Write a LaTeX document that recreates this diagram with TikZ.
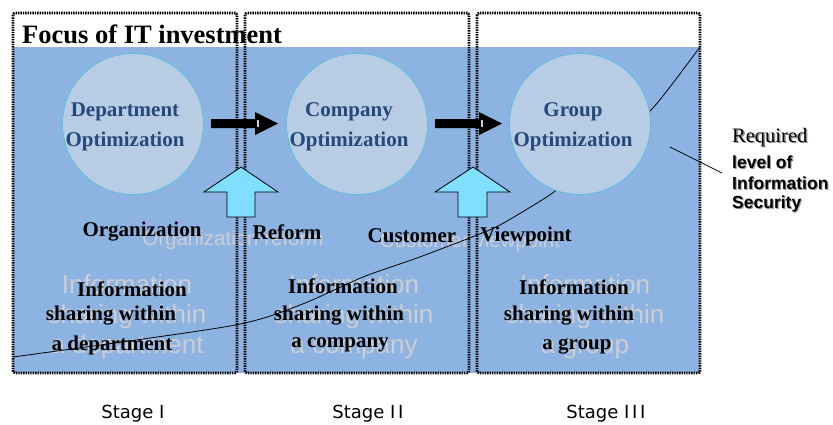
\documentclass[tikz,border=0pt]{standalone}
\usepackage{fontspec}
\setmainfont{Liberation Serif}
\newfontfamily\ghostfont{Liberation Sans}
\newfontfamily\labelfont{Liberation Sans}
\newfontfamily\stagefont{DejaVu Sans}
\definecolor{bgblue}{RGB}{141,179,226}
\definecolor{cfill}{RGB}{184,204,228}
\definecolor{cline}{RGB}{80,196,218}
\definecolor{ctext}{RGB}{38,72,122}
\definecolor{ghost}{RGB}{204,206,212}
\definecolor{upfill}{RGB}{128,222,255}
\definecolor{gapcol}{RGB}{190,208,232}
\definecolor{shadow}{RGB}{150,150,150}
\tikzset{
  txt/.style={inner sep=0pt, align=center},
  circtext/.style={txt, text=ctext, font=\fontsize{21}{30}\selectfont\bfseries},
  blacklab/.style={txt, font=\fontsize{21}{25}\selectfont\bfseries},
  ghosttext/.style={txt, text=ghost, font=\ghostfont\fontsize{26}{30}\selectfont},
  ghostlab/.style={txt, text=ghost, font=\ghostfont\fontsize{20.5}{24}\selectfont},
  stagebox/.style={circle, minimum size=141pt, inner sep=0pt, fill=cfill, draw=cline, line width=0.7pt},
  dotbox/.style={draw=black, line width=2.6pt, dash pattern=on 1.4pt off 1pt, rounded corners=2pt},
  rarrow/.style={fill=black},
  uparrow/.style={fill=upfill, draw=black, line width=0.8pt, line join=miter},
  stagelab/.style={txt, font=\stagefont\fontsize{18}{22}\selectfont},
  reqlab/.style={inner sep=0pt, anchor=west, font=\labelfont\fontsize{17.5}{21}\selectfont\bfseries}
}
\begin{document}
\begin{tikzpicture}[x=1pt, y=-1pt]
\useasboundingbox (0,0) rectangle (833,424);
% background
\fill[white] (0,0) rectangle (833,424);
\fill[bgblue] (13,47) rectangle (700,373);
% ghost texts
\node[ghostlab] (g1) at (233,240) {Organization reform};
\node[ghostlab] (g2) at (470,242) {Customer viewpoint};
\node[ghosttext] (gi1) at (127,317) {Information\\sharing within\\a department};
\node[ghosttext] (gi2) at (354,317) {Information\\sharing within\\a company};
\node[ghosttext] (gi3) at (585,317) {Information\\sharing within\\a group};
% required level curve
\draw[line width=0.8pt] plot[smooth, tension=0.45] coordinates {(13,357) (230,326) (300,305) (363,277) (417,258) (472,237) (500,225) (542,200) (558,189) (605,155) (651,110) (673,83) (700,47)};
% circles
\node[stagebox] (c1) at (133,124) {};
\node[stagebox] (c2) at (357,124) {};
\node[stagebox] (c3) at (580,124) {};
\node[circtext] (t1) at (125,127) {Department\\Optimization};
\node[circtext] (t2) at (349,127) {Company\\Optimization};
\node[circtext] (t3) at (573,127) {Group\\Optimization};
% title
\node[inner sep=0pt, anchor=base west, font=\fontsize{26.5}{30}\selectfont\bfseries] (title) at (22,43) {Focus of IT investment};
% dotted boxes
\draw[dotbox] (13,13) rectangle (237,373);
\draw[dotbox] (245,13) rectangle (469,373);
\draw[dotbox] (477,13) rectangle (700,373);
% black labels
\node[blacklab] (l1) at (142,232) {Organization};
\node[blacklab] (l2) at (287,232) {Reform};
\node[blacklab] (l3) at (412,236) {Customer};
\node[blacklab] (l4) at (526,236) {Viewpoint};
\node[blacklab] (i11) at (132,289) {Information};
\node[blacklab] (i12) at (111,316) {sharing within};
\node[blacklab] (i13) at (112,345) {a department};
\node[blacklab] (i21) at (343,286) {Information};
\node[blacklab] (i22) at (339,316) {sharing within};
\node[blacklab] (i23) at (340,345) {a company};
\node[blacklab] (i31) at (574,287) {Information};
\node[blacklab] (i32) at (569,316) {sharing within};
\node[blacklab] (i33) at (577,346) {a group};
% right arrows
\fill[rarrow] (211,119) -- (255,119) -- (255,112) -- (278,123.5) -- (255,135) -- (255,128) -- (211,128) -- cycle;
\fill[gapcol] (256.5,120) rectangle (258.5,127);
\fill[rarrow] (435,119) -- (479,119) -- (479,112) -- (502,123.5) -- (479,135) -- (479,128) -- (435,128) -- cycle;
\fill[gapcol] (480.5,120) rectangle (482.5,127);
% up arrows
\draw[uparrow] (227,217) -- (227,192) -- (204,192) -- (241,167) -- (278,192) -- (255,192) -- (255,217) -- cycle;
\draw[uparrow] (458,217) -- (458,192) -- (435,192) -- (473,167) -- (510,192) -- (487,192) -- (487,217) -- cycle;
% required level label
\coordinate (pstart) at (670,147);
\coordinate (pend) at (722,173);
\draw[line width=0.7pt] (pstart) -- (pend);
\node[inner sep=0pt, anchor=west, text=shadow, font=\fontsize{20.5}{24}\selectfont] at (733.5,138.8) {Required};
\node[inner sep=0pt, anchor=west, font=\fontsize{20.5}{24}\selectfont] (req) at (732,138) {Required};
\node[reqlab, text=shadow] at (733,162.8) {level of};
\node[reqlab] (lv) at (732,162) {level of};
\node[reqlab, text=shadow] at (733,183.8) {Information};
\node[reqlab] (inf) at (732,183) {Information};
\node[reqlab, text=shadow] at (733,204.8) {Security};
\node[reqlab] (sec) at (732,204) {Security};
% stage labels
\node[stagelab] (s1) at (133,414) {Stage I};
\node[stagelab] (s2) at (368,414) {Stage I\hspace{2.7pt}I};
\node[stagelab] (s3) at (606,414) {Stage I\hspace{2.7pt}I\hspace{2.7pt}I};
\end{tikzpicture}
\end{document}
